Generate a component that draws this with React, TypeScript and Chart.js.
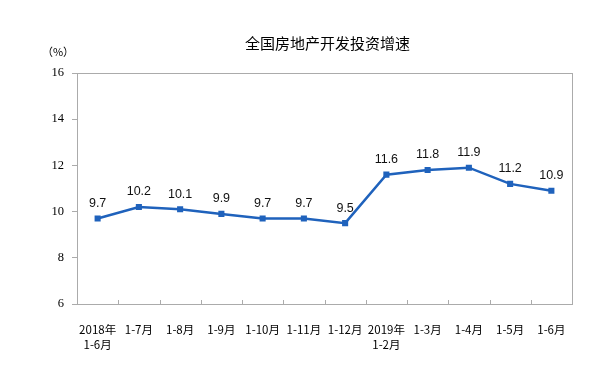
import React, { useEffect, useRef } from "react";
import { Chart, registerables } from "chart.js";

Chart.register(...registerables);

const titleText = "全国房地产开发投资增速";
const unitText = "（%）";
const categories: (string | string[])[] = [
  ["2018年", "1-6月"],
  "1-7月",
  "1-8月",
  "1-9月",
  "1-10月",
  "1-11月",
  "1-12月",
  ["2019年", "1-2月"],
  "1-3月",
  "1-4月",
  "1-5月",
  "1-6月",
];
const growth = [9.7, 10.2, 10.1, 9.9, 9.7, 9.7, 9.5, 11.6, 11.8, 11.9, 11.2, 10.9];
const yMin = 6;
const yMax = 16;
const yStep = 2;

const LINE = "#1F62BC";
const BORDER = "#ABABAB";

const framePlugin = {
  id: "frame",
  beforeDatasetsDraw(chart: any) {
    const { ctx, chartArea } = chart;
    const { left, top, right, bottom } = chartArea;
    ctx.save();
    ctx.strokeStyle = BORDER;
    ctx.lineWidth = 1;
    ctx.strokeRect(Math.round(left) + 0.5, Math.round(top) + 0.5, Math.round(right - left), Math.round(bottom - top));
    // inner category boundary ticks on x axis
    const xs = chart.scales.x;
    const n = xs.ticks.length;
    ctx.beginPath();
    for (let i = 1; i < n; i++) {
      const x = Math.round((xs.getPixelForTick(i - 1) + xs.getPixelForTick(i)) / 2) + 0.5;
      ctx.moveTo(x, Math.round(bottom));
      ctx.lineTo(x, Math.round(bottom) - 4);
    }
    ctx.stroke();
    ctx.restore();
  },
};

const labelsPlugin = {
  id: "valueLabels",
  afterDatasetsDraw(chart: any) {
    const { ctx } = chart;
    const meta = chart.getDatasetMeta(0);
    const data = chart.data.datasets[0].data as number[];
    ctx.save();
    ctx.fillStyle = "#111";
    ctx.font = '12.5px "Liberation Sans", Arial, sans-serif';
    ctx.textAlign = "center";
    ctx.textBaseline = "middle";
    meta.data.forEach((pt: any, i: number) => {
      ctx.fillText(data[i].toFixed(1), pt.x, pt.y - 15);
    });
    ctx.restore();
  },
};

const textPlugin = {
  id: "texts",
  afterDraw(chart: any) {
    const { ctx, chartArea } = chart;
    ctx.save();
    ctx.fillStyle = "#000";
    ctx.textAlign = "center";
    ctx.textBaseline = "middle";
    ctx.font = '15px "Noto Sans CJK SC", sans-serif';
    ctx.fillText(titleText, (chartArea.left + chartArea.right) / 2 + 3, 43);
    ctx.font = '11px "Noto Sans CJK SC", sans-serif';
    ctx.fillText(unitText, 58, 52);
    ctx.restore();
  },
};

export default function App() {
  const ref = useRef<HTMLCanvasElement | null>(null);
  useEffect(() => {
    if (!ref.current) return;
    const chart = new Chart(ref.current, {
      type: "line",
      data: {
        labels: categories,
        datasets: [
          {
            data: growth,
            borderColor: LINE,
            backgroundColor: LINE,
            borderWidth: 2.5,
            pointStyle: "rect",
            pointRadius: 4.3,
            pointBorderWidth: 0,
            pointBackgroundColor: LINE,
            tension: 0,
          },
        ],
      },
      options: {
        animation: false,
        responsive: true,
        maintainAspectRatio: false,
        layout: { padding: { top: 73, right: 42, left: 0, bottom: 0 } },
        plugins: {
          legend: { display: false },
          title: { display: false },
          tooltip: { enabled: false },
        },
        scales: {
          x: {
            type: "category",
            offset: true,
            grid: { display: false },
            border: { display: false },
            ticks: {
              color: "#000",
              font: { family: '"Noto Sans CJK SC", sans-serif', size: 11.5, lineHeight: 1.3 },
              padding: 10,
              maxRotation: 0,
              autoSkip: false,
            },
            afterFit: (s: any) => {
              s.height = 76;
            },
          },
          y: {
            min: yMin,
            max: yMax,
            grid: {
              drawOnChartArea: false,
              drawTicks: true,
              tickLength: 5,
              color: BORDER,
            },
            border: { display: false },
            ticks: {
              stepSize: yStep,
              color: "#000",
              padding: 8,
              font: { family: '"Liberation Serif", "Times New Roman", serif', size: 12.5 },
            },
            afterFit: (s: any) => {
              s.width = 77;
            },
          },
        },
      },
      plugins: [framePlugin, labelsPlugin, textPlugin],
    });
    return () => chart.destroy();
  }, []);
  return (
    <div style={{ position: "fixed", left: 0, top: 0, width: 614, height: 380, background: "#fff" }}>
      <canvas ref={ref} />
    </div>
  );
}
